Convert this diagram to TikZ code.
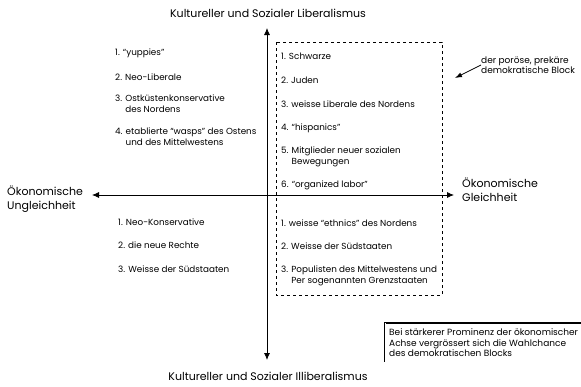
\documentclass[tikz,border=0pt]{standalone}
\usepackage{fontspec}
\setmainfont{Poppins}
\usepackage{tikz}
\usetikzlibrary{positioning}
\usetikzlibrary{arrows.meta}

\tikzset{
    axislabel/.style={font=\fontsize{11}{14}\selectfont, inner sep=0pt},
    group/.style={font=\fontsize{8.8}{11}\selectfont, anchor=west, align=left, inner sep=0pt},
    remark/.style={font=\fontsize{9}{10.5}\selectfont, anchor=west, align=left, inner sep=0pt},
    axis/.style={thick, -{Latex[length=7pt,width=6pt]}}
}

\begin{document}
\begin{tikzpicture}[x=1pt, y=-1pt]
    \useasboundingbox (0,0) rectangle (581,386);

    % Axes
    \coordinate (top) at (267,28);
    \coordinate (bottom) at (267,360);
    \coordinate (left) at (92,195);
    \coordinate (right) at (454,195);
    \coordinate (origin) at (267,195);
    \draw[axis] (origin) -- (top);
    \draw[axis] (origin) -- (bottom);
    \draw[axis] (origin) -- (left);
    \draw[axis] (origin) -- (right);

    % Axis labels
    \node[axislabel] (lib) at (268,13) {Kultureller und Sozialer Liberalismus};
    \node[axislabel] (illib) at (268,376) {Kultureller und Sozialer Illiberalismus};
    \node[axislabel, anchor=west, align=left] (ungleich) at (7,199) {Ökonomische\\Ungleichheit};
    \node[axislabel, anchor=west, align=left] (gleich) at (462,190) {Ökonomische\\Gleichheit};

    % Democratic block
    \draw[dashed] (276,42) rectangle (442,295);
    \node[group] (d1) at (281,56) {1. Schwarze};
    \node[group] (d2) at (281,80) {2. Juden};
    \node[group] (d3) at (281,104) {3. weisse Liberale des Nordens};
    \node[group] (d4) at (281,128) {4. ``hispanics''};
    \node[group] (d5) at (281,157) {5. Mitglieder neuer sozialen\\\phantom{5. }Bewegungen};
    \node[group] (d6) at (281,185) {6. ``organized labor''};
    \node[group] (e1) at (281,223) {1. weisse ``ethnics'' des Nordens};
    \node[group] (e2) at (281,246) {2. Weisse der Südstaaten};
    \node[group] (e3) at (281,276) {3. Populisten des Mittelwestens und\\\phantom{3. }Per sogenannten Grenzstaaten};

    % Republican groups
    \node[group] (r1) at (115,53) {1. ``yuppies''};
    \node[group] (r2) at (115,77) {2. Neo-Liberale};
    \node[group] (r3) at (115,104) {3. Ostküstenkonservative\\\phantom{3. }des Nordens};
    \node[group] (r4) at (115,137) {4. etablierte ``wasps'' des Ostens\\\phantom{4. }und des Mittelwestens};
    \node[group] (k1) at (118,222) {1. Neo-Konservative};
    \node[group] (k2) at (118,245) {2. die neue Rechte};
    \node[group] (k3) at (118,269) {3. Weisse der Südstaaten};

    % Block label
    \node[remark] (block) at (481,65) {der poröse, prekäre\\demokratische Block};
    \coordinate (blocktip) at (455,78);
    \draw[thick, -{Latex[length=7pt,width=5pt]}] (block.west) -- (blocktip);

    % Note
    \node[remark] (note) at (389,343) {Bei stärkerer Prominenz der ökonomischer\\Achse vergrössert sich die Wahlchance\\des demokratischen Blocks};
    \draw[very thick] (384,323) -- (581,323);
    \draw[double] (385,323) -- (385,362);
\end{tikzpicture}
\end{document}
